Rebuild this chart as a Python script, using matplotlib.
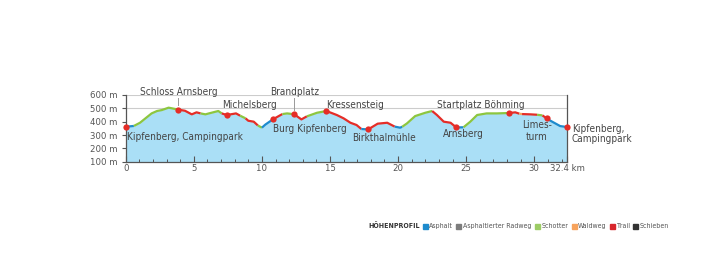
import matplotlib
matplotlib.use("Agg")
import matplotlib.pyplot as plt
from matplotlib.patches import Rectangle

plt.rcParams['font.family'] = ['DejaVu Sans']
plt.rcParams['font.stretch'] = 'condensed'

# profile points (km, m)
km = [0.0, 0.6, 1.05, 1.9, 2.3, 2.65, 3.15, 3.4, 3.87, 4.35, 4.85, 5.2, 5.5, 5.85,
      6.3, 6.8, 7.05, 7.42, 8.1, 8.4, 8.8, 9.0, 9.4, 9.7, 10.0, 10.25, 10.8, 11.2,
      11.5, 11.85, 12.2, 12.38, 12.9, 13.3, 14.05, 14.74, 15.5, 16.0, 16.5, 16.95,
      17.3, 17.8, 18.5, 19.2, 19.75, 20.15, 20.3, 20.65, 21.25, 22.0, 22.5, 22.85,
      23.35, 23.85, 24.27, 24.45, 24.8, 25.3, 25.8, 26.5, 27.25, 28.15, 28.6, 28.9,
      29.1, 29.7, 30.2, 30.6, 30.9, 31.1, 31.4, 31.9, 32.4]
elev = [362, 368, 392, 462, 480, 487, 505, 500, 490, 482, 455, 470, 462, 455,
        467, 480, 462, 450, 462, 445, 425, 407, 400, 372, 355, 378, 417, 440,
        457, 462, 458, 455, 417, 440, 467, 480, 450, 425, 392, 375,
        345, 342, 385, 392, 363, 355, 362, 387, 442, 467, 480, 450,
        400, 392, 357, 357, 358, 400, 450, 462, 462, 465, 470, 460,
        457, 455, 452, 447, 425, 412, 395, 367, 360]

# surface segments
breaks = [0, 0.6, 3.87, 5.5, 7.05, 8.4, 8.8, 9.7, 10.0, 10.8, 11.5, 12.2, 13.3,
          14.74, 17.3, 17.8, 19.75, 20.3, 22.5, 24.45, 24.8, 28.15, 28.9, 29.1,
          30.2, 30.6, 31.1, 32.4]
surfaces = ['Asphalt', 'Schotter', 'Trail', 'Schotter', 'Trail', 'Schotter', 'Trail',
            'Schotter', 'Asphalt', 'Trail', 'Schotter', 'Trail', 'Schotter', 'Trail',
            'Asphalt', 'Trail', 'Asphalt', 'Schotter', 'Trail', 'Asphalt', 'Schotter',
            'Trail', 'Waldweg', 'Trail', 'Schotter', 'Trail', 'Asphalt']

# waypoints
stops_km = [0.0, 3.87, 7.42, 10.8, 12.38, 14.74, 17.8, 24.27, 28.15, 30.9, 32.4]

legend_names = ['Asphalt', 'Asphaltierter Radweg', 'Schotter', 'Waldweg', 'Trail', 'Schieben']
legend_cols = ['#1e8bcd', '#7d7d7d', '#9ccc65', '#f7a35c', '#d8262c', '#333333']
colors = dict(zip(legend_names, legend_cols))
colors['Schotter'] = '#8dc63f'
colors['Trail'] = '#e52d27'

fig = plt.figure(figsize=(7.12, 2.71), dpi=100)
ax = fig.add_axes([125.7/712, 1-161.7/271, (567-125.7)/712, (161.7-95)/271])
ax.set_xlim(0, 32.4)
ax.set_ylim(100, 600)

for g in [500, 600]:
    ax.axhline(g, color='#cccccc', lw=0.8, zorder=0)

ax.fill_between(km, elev, 100, color='#aadff6', lw=0, zorder=1)

for i in range(len(surfaces)):
    a, b = breaks[i], breaks[i+1]
    xs = [k for k in km if a <= k <= b]
    ys = [elev[km.index(k)] for k in xs]
    ax.plot(xs, ys, color=colors[surfaces[i]], lw=1.6, solid_capstyle='butt', zorder=3)

ax.plot(stops_km, [elev[km.index(k)] for k in stops_km], 'o', color='#e52d27',
        ms=4.5, mec='none', zorder=4, clip_on=False)

ax.spines['top'].set_visible(False)
for s in ['left', 'bottom', 'right']:
    ax.spines[s].set_color('#555555')
    ax.spines[s].set_linewidth(0.9)

ax.set_xticks([0, 5, 10, 15, 20, 25, 30, 32.4])
ax.set_xticklabels(['0', '5', '10', '15', '20', '25', '30', '32.4 km'])
ax.set_xticks(range(0, 33), minor=True)
ax.tick_params(axis='x', which='major', direction='in', length=4, width=0.8,
               color='#555555', labelsize=6.8, labelcolor='#555555', pad=2)
ax.tick_params(axis='x', which='minor', direction='in', length=2, width=0.7, color='#555555')
ax.set_yticks([100, 200, 300, 400, 500, 600])
ax.set_yticklabels(['100 m', '200 m', '300 m', '400 m', '500 m', '600 m'])
ax.tick_params(axis='y', direction='out', length=3, width=0.8, color='#555555',
               labelsize=6.8, labelcolor='#555555', pad=3)

lab = dict(fontsize=7.2, color='#444444')
ax.text(3.87, 624, 'Schloss Arnsberg', ha='center', va='center', clip_on=False, **lab)
ax.text(12.38, 624, 'Brandplatz', ha='center', va='center', clip_on=False, **lab)
ax.plot([3.87, 3.87], [575, 525], color='#999999', lw=0.7)
ax.plot([12.38, 12.38], [575, 490], color='#999999', lw=0.7)
ax.text(7.05, 525, 'Michelsberg', ha='left', va='center', **lab)
ax.text(14.74, 525, 'Kressensteig', ha='left', va='center', **lab)
ax.text(26.1, 525, 'Startplatz Böhming', ha='center', va='center', **lab)
ax.text(0.1, 287, 'Kipfenberg, Campingpark', ha='left', va='center', **lab)
ax.text(10.8, 343, 'Burg Kipfenberg', ha='left', va='center', **lab)
ax.text(19.0, 275, 'Birkthalmühle', ha='center', va='center', **lab)
ax.text(24.77, 307, 'Arnsberg', ha='center', va='center', **lab)
ax.text(30.2, 330, 'Limes-\nturm', ha='center', va='center', linespacing=1.15, **lab)
ax.text(32.75, 307, 'Kipfenberg,\nCampingpark', ha='left', va='center',
        linespacing=1.1, clip_on=False, **lab)

# legend row
fig.canvas.draw()
r = fig.canvas.get_renderer()
x = 368
y = 1 - 226/271
t = fig.text(x/712, y, 'HÖHENPROFIL', fontsize=5, fontweight='bold', color='#333333', va='center')
x += t.get_window_extent(r).width + 3
for name, c in zip(legend_names, legend_cols):
    fig.patches.append(Rectangle((x/712, y - 2.5/271), 5/712, 5/271, color=c,
                                 transform=fig.transFigure, figure=fig))
    x += 6.5
    t = fig.text(x/712, y, name, fontsize=5, color='#555555', va='center')
    x += t.get_window_extent(r).width + 3.5

fig.savefig('out.png', dpi=100)
